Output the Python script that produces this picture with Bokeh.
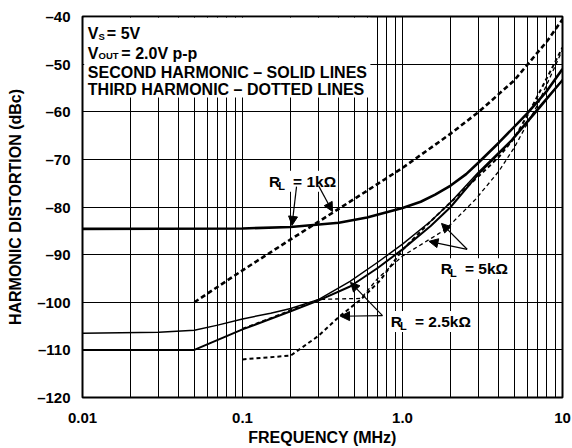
from bokeh.plotting import figure
from bokeh.models import FixedTicker, Label, Arrow, NormalHead, BoxAnnotation
from bokeh.embed import file_html
from bokeh.resources import INLINE

# ---------------- data ----------------
x_ticks = [0.01, 0.1, 1.0, 10.0]
x_tick_labels = ["0.01", "0.1", "1.0", "10"]
x_minor_ticks = [m * 10.0 ** k for k in (-2, -1, 0) for m in range(2, 10)]
y_ticks = [-120, -110, -100, -90, -80, -70, -60, -50, -40]
y_tick_labels = ["\u2013120", "\u2013110", "\u2013100", "\u201390", "\u201380",
                 "\u201370", "\u201360", "\u201350", "\u201340"]

# second harmonic (solid)
freq_1k_2nd = [0.01, 0.1, 0.2, 0.4, 0.6, 1.0, 1.3, 1.6, 2.0, 2.5, 3.0, 4.0, 6.0, 8.0, 10.0]
hd_1k_2nd = [-84.6, -84.5, -84.2, -83.3, -82.2, -80.2, -78.9, -77.4, -75.5, -73.1,
             -70.6, -66.5, -60.4, -55.6, -51.0]

freq_2k5_2nd = [0.01, 0.03, 0.05, 0.07, 0.1, 0.15, 0.2, 0.3, 0.47, 0.7, 1.0, 1.5,
                2.0, 3.0, 4.8, 7.3, 10.0]
hd_2k5_2nd = [-106.5, -106.3, -105.9, -104.8, -103.5, -102.3, -101.3, -99.4, -95.6,
              -91.6, -87.8, -83.0, -79.0, -72.6, -65.9, -58.6, -53.2]

freq_5k_2nd = [0.01, 0.05, 0.1, 0.2, 0.3, 0.47, 0.7, 1.0, 1.5, 2.0, 3.0, 4.8, 7.3, 10.0]
hd_5k_2nd = [-110.0, -110.0, -105.7, -101.9, -99.6, -96.7, -92.8, -88.9, -84.0,
             -80.0, -73.0, -66.1, -58.9, -53.4]

# third harmonic (dotted)
freq_1k_3rd = [0.05, 0.1, 0.2, 0.5, 1.0, 2.0, 3.0, 5.0, 8.0, 10.0]
hd_1k_3rd = [-100.0, -93.3, -86.8, -78.3, -71.8, -64.6, -60.0, -53.4, -45.2, -40.6]

freq_2k5_3rd = [0.1, 0.2, 0.3, 0.4, 0.55, 0.73, 1.0, 1.5, 2.0, 3.0, 4.0, 5.0, 6.1,
                8.4, 10.0]
hd_2k5_3rd = [-112.0, -111.2, -107.0, -103.1, -99.4, -95.3, -89.0, -83.0, -79.0,
              -73.5, -69.5, -65.5, -60.5, -51.5, -46.5]

freq_5k_3rd = [0.1, 0.15, 0.2, 0.3, 0.4, 0.55, 0.7, 1.0, 1.86, 2.86, 4.0, 5.0, 7.0, 10.0]
hd_5k_3rd = [-105.5, -103.3, -101.6, -99.4, -99.3, -99.2, -95.0, -90.3, -84.7,
             -78.4, -72.5, -67.5, -58.5, -47.0]

FONT = "Liberation Sans"

# ---------------- figure ----------------
p = figure(width=572, height=448, x_axis_type="log", x_range=(0.01, 10),
           y_range=(-120, -40), output_backend="svg", toolbar_location=None,
           min_border_left=82, min_border_right=10, min_border_top=16,
           min_border_bottom=49)

p.background_fill_color = "white"
p.border_fill_color = "white"
p.outline_line_color = "black"
p.outline_line_width = 2

xt = FixedTicker(ticks=x_ticks, minor_ticks=x_minor_ticks)
yt = FixedTicker(ticks=y_ticks)
p.xaxis.ticker = xt
p.yaxis.ticker = yt
p.xgrid.ticker = xt
p.ygrid.ticker = yt
p.xaxis.major_label_overrides = dict(zip(x_ticks, x_tick_labels))
p.yaxis.major_label_overrides = dict(zip(y_ticks, y_tick_labels))

for g in (p.xgrid, p.ygrid):
    g.grid_line_color = "black"
    g.grid_line_width = 1
p.xgrid.minor_grid_line_color = "black"
p.xgrid.minor_grid_line_width = 1

for ax in (p.xaxis, p.yaxis):
    ax.axis_line_color = None
    ax.major_tick_line_color = None
    ax.minor_tick_line_color = None
    ax.major_label_text_font = FONT
    ax.major_label_text_font_style = "bold"
    ax.major_label_text_font_size = "15px"
    ax.major_label_text_color = "black"
    ax.axis_label_text_font = FONT
    ax.axis_label_text_font_style = "bold"
    ax.axis_label_text_font_size = "16px"
    ax.axis_label_text_color = "black"

p.xaxis.axis_label = "FREQUENCY (MHz)"
p.yaxis.axis_label = "HARMONIC DISTORTION (dBc)"
p.xaxis.major_label_standoff = 9
p.xaxis.axis_label_standoff = 3
p.yaxis.major_label_standoff = 6
p.yaxis.axis_label_standoff = 10

# curves
p.line(freq_5k_3rd, hd_5k_3rd, line_color="black", line_width=1.3, line_dash="4 3")
p.line(freq_2k5_3rd, hd_2k5_3rd, line_color="black", line_width=2.0, line_dash="4 3")
p.line(freq_1k_3rd, hd_1k_3rd, line_color="black", line_width=2.6, line_dash="5 3")
p.line(freq_2k5_2nd, hd_2k5_2nd, line_color="black", line_width=1.5)
p.line(freq_5k_2nd, hd_5k_2nd, line_color="black", line_width=2.0)
p.line(freq_1k_2nd, hd_1k_2nd, line_color="black", line_width=2.6)

# white box behind the conditions text
p.add_layout(BoxAnnotation(left=0.01025, right=0.63, top=-40.25, bottom=-57.0,
                           fill_color="white", fill_alpha=1.0, line_color=None))


def txt(x, y, s, size="16px", xo=0, yo=0, bg=None):
    kw = dict(x=x, y=y, text=s, x_offset=xo, y_offset=yo, text_font=FONT,
              text_font_style="bold", text_font_size=size, text_color="black",
              text_baseline="alphabetic", text_align="left")
    if bg:
        kw.update(background_fill_color=bg, background_fill_alpha=1.0, padding=2)
    p.add_layout(Label(**kw))


# conditions text
x0 = 0.0108
txt(x0, -43.66, "V")
txt(x0, -43.66, "S", size="9.5px", xo=10.7, yo=-2.5)
txt(x0, -43.66, "= 5V", xo=19.0)
txt(x0, -47.73, "V")
txt(x0, -47.73, "OUT", size="9.5px", xo=10.7, yo=-2.5)
txt(x0, -47.73, "= 2.0V p-p", xo=33.5)
txt(x0, -51.70, "SECOND HARMONIC \u2013 SOLID LINES")
txt(x0, -55.35, "THIRD HARMONIC \u2013 DOTTED LINES")

# R_L labels
NB = "\u00a0\u00a0\u00a0"
for (lx, ly, val) in [(0.1422, -74.57, "1k\u03a9"), (1.686, -92.95, "5k\u03a9"),
                      (0.821, -104.02, "2.5k\u03a9")]:
    txt(lx, ly, "R" + NB + "= " + val, size="15.5px", bg="white")
    txt(lx, ly, "L", size="11px", xo=11.2, yo=-4.5)

# arrows
arrows = [
    (0.2176, -75.72, 0.2039, -83.86),
    (0.2985, -75.51, 0.365, -80.94),
    (2.535, -88.88, 1.753, -83.45),
    (2.535, -88.88, 1.464, -87.21),
    (0.75, -102.81, 0.473, -95.83),
    (0.75, -102.81, 0.41, -102.94),
]
for xs, ys, xe, ye in arrows:
    p.add_layout(Arrow(x_start=xs, y_start=ys, x_end=xe, y_end=ye,
                       line_color="black", line_width=1.2,
                       end=NormalHead(size=9, fill_color="black",
                                      line_color="black", line_width=1)))

open("out.html", "w").write(file_html(p, INLINE))
